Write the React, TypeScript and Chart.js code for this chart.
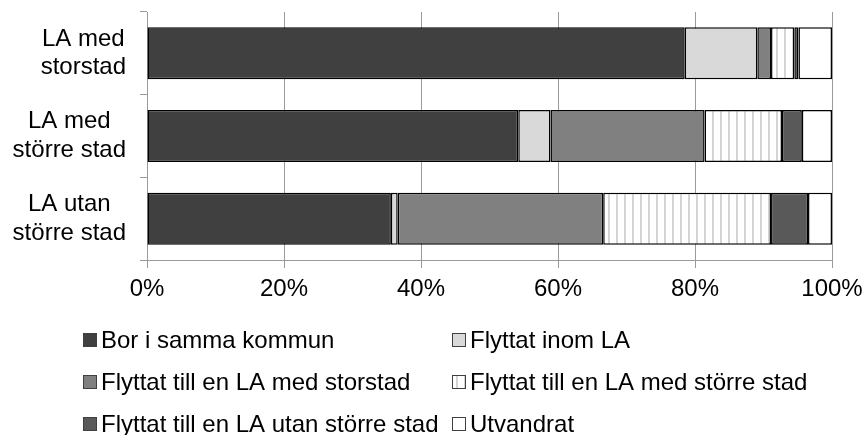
import React, { useEffect, useRef } from "react";
import { Chart, registerables } from "chart.js";

Chart.register(...registerables);

const categories: string[][] = [
  ["LA med", "storstad"],
  ["LA med", "större stad"],
  ["LA utan", "större stad"],
];

const seriesNames = [
  "Bor i samma kommun",
  "Flyttat inom LA",
  "Flyttat till en LA med storstad",
  "Flyttat till en LA med större stad",
  "Flyttat till en LA utan större stad",
  "Utvandrat",
];

const borISammaKommun = [78.5, 54.2, 35.6];
const flyttatInomLA = [10.6, 4.7, 1.0];
const flyttatStorstad = [2.0, 22.5, 30.0];
const flyttatStorreStad = [3.4, 11.3, 24.5];
const flyttatUtanStorreStad = [0.6, 2.9, 5.4];
const utvandrat = [4.9, 4.4, 3.5];

const xTicks = [0, 20, 40, 60, 80, 100];

const FONT = "'Liberation Sans', Arial, sans-serif";
const FONT_SIZE = 24;
const Y_TICK_LEN = 7;
const Y_LABEL_PAD = 14;

function makeStripePattern(): CanvasPattern | string {
  const c = document.createElement("canvas");
  c.width = 8;
  c.height = 8;
  const ctx = c.getContext("2d");
  if (!ctx) return "#ffffff";
  ctx.fillStyle = "#ffffff";
  ctx.fillRect(0, 0, 8, 8);
  ctx.fillStyle = "#d4d4d4";
  ctx.fillRect(0, 0, 2, 8);
  const p = ctx.createPattern(c, "repeat");
  return p || "#ffffff";
}

// Category labels: block right-aligned to the axis, lines centred within the block
const yLabelPlugin = {
  id: "yCenteredLabels",
  afterDraw(chart: any) {
    const ctx = chart.ctx as CanvasRenderingContext2D;
    const scale = chart.scales.y;
    const labels = chart.data.labels as string[][];
    const lh = FONT_SIZE * 1.2;
    ctx.save();
    ctx.font = `${FONT_SIZE}px ${FONT}`;
    ctx.fillStyle = "#000000";
    ctx.textBaseline = "middle";
    ctx.textAlign = "center";
    const right = scale.right - Y_TICK_LEN - Y_LABEL_PAD;
    labels.forEach((lines, i) => {
      const yc = scale.getPixelForValue(i);
      const w = Math.max(...lines.map((l) => ctx.measureText(l).width));
      const cx = right - w / 2;
      const y0 = yc - ((lines.length - 1) * lh) / 2;
      lines.forEach((l, j) => ctx.fillText(l, cx, y0 + j * lh));
    });
    ctx.restore();
  },
};

const legendPlugin = {
  id: "gridLegend",
  afterDraw(chart: any) {
    const ctx = chart.ctx as CanvasRenderingContext2D;
    const ds = chart.data.datasets;
    const colX = [83, 452];
    const rowY = [340, 382, 424];
    ctx.save();
    ctx.font = `${FONT_SIZE}px ${FONT}`;
    ctx.textBaseline = "middle";
    ctx.textAlign = "left";
    ds.forEach((d: any, i: number) => {
      const col = i % 2;
      const row = Math.floor(i / 2);
      const x = colX[col];
      const y = rowY[row];
      ctx.fillStyle = d.backgroundColor;
      ctx.fillRect(x, y - 7, 14, 14);
      ctx.strokeStyle = "#404040";
      ctx.lineWidth = 1;
      ctx.strokeRect(x + 0.5, y - 6.5, 13, 13);
      ctx.fillStyle = "#000000";
      ctx.fillText(d.label, x + 18, y + 1);
    });
    ctx.restore();
  },
};

export default function App() {
  const ref = useRef<HTMLCanvasElement | null>(null);

  useEffect(() => {
    document.body.style.margin = "0";
    document.body.style.overflow = "hidden";
    const canvas = ref.current;
    if (!canvas) return;
    const stripe = makeStripePattern();
    const fills: any[] = ["#404040", "#d9d9d9", "#808080", stripe, "#595959", "#ffffff"];
    const values = [
      borISammaKommun,
      flyttatInomLA,
      flyttatStorstad,
      flyttatStorreStad,
      flyttatUtanStorreStad,
      utvandrat,
    ];
    const chart = new Chart(canvas, {
      type: "bar",
      data: {
        labels: categories as any,
        datasets: values.map((v, i) => ({
          label: seriesNames[i],
          data: v,
          backgroundColor: fills[i],
          borderColor: "#000000",
          borderWidth: 1.5,
          borderSkipped: false,
          barPercentage: 0.63,
          categoryPercentage: 1,
        })),
      },
      options: {
        indexAxis: "y",
        responsive: false,
        animation: false,
        devicePixelRatio: 1,
        layout: { padding: { left: 0, right: 32, top: 12, bottom: 135 } },
        plugins: {
          legend: { display: false },
          tooltip: { enabled: false },
        },
        scales: {
          x: {
            stacked: true,
            min: 0,
            max: 100,
            afterBuildTicks: (scale: any) => {
              scale.ticks = xTicks.map((v) => ({ value: v }));
            },
            afterFit: (scale: any) => {
              scale.height = 40;
              scale.paddingLeft = 0;
              scale.paddingRight = 0;
            },
            ticks: {
              padding: 7,
              color: "#000000",
              font: { family: FONT, size: FONT_SIZE },
              callback: (v: any) => `${v}%`,
              maxRotation: 0,
            },
            grid: {
              color: "#9a9a9a",
              lineWidth: 1,
              drawTicks: true,
              tickLength: 8,
            },
            border: { display: true, color: "#9a9a9a", width: 1 },
          },
          y: {
            stacked: true,
            afterFit: (scale: any) => {
              scale.width = 147;
              scale.paddingTop = 0;
              scale.paddingBottom = 0;
            },
            ticks: {
              display: false,
              padding: Y_LABEL_PAD,
              font: { family: FONT, size: FONT_SIZE },
            },
            grid: {
              drawOnChartArea: false,
              drawTicks: true,
              tickLength: Y_TICK_LEN,
              color: "#9a9a9a",
              offset: true,
            },
            border: { display: true, color: "#9a9a9a", width: 1 },
          },
        },
      },
      plugins: [yLabelPlugin, legendPlugin],
    });
    return () => chart.destroy();
  }, []);

  return <canvas ref={ref} width={864} height={435} style={{ display: "block" }} />;
}
